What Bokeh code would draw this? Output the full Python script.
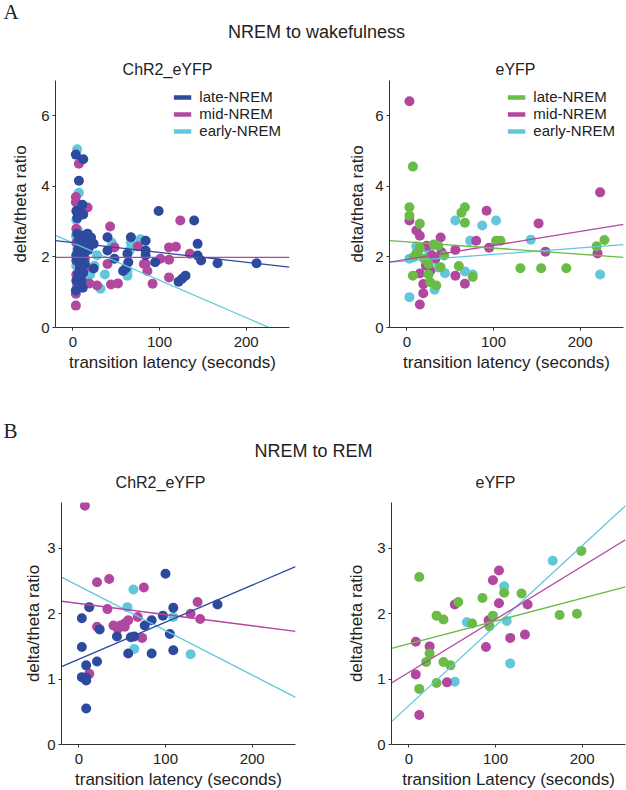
from bokeh.plotting import figure
from bokeh.models import Range1d, Label, Legend, LegendItem
from bokeh.layouts import column, row
from bokeh.embed import file_html
from bokeh.resources import INLINE

FONT = "Liberation Sans"
SERIF = "Liberation Serif"
BLUE = "#2D4A9F"
MAGENTA = "#B1479F"
CYAN = "#63C7DB"
GREEN = "#6BBB47"
NAN = float("nan")

groups = ["late-NREM", "mid-NREM", "early-NREM"]
x_ticks = [0, 100, 200]
y_ticks_A = [0, 2, 4, 6]
y_ticks_B = [0, 1, 2, 3]
fit_x = [-20, 250]

# ---------------- A: NREM to wakefulness, ChR2_eYFP ----------------
a_chr2_late_x = [3.5, 12, 7, 11, 12, 4, 5, 8, 5, 17, 21, 40, 67, 84, 99, 140, 144, 144, 148, 167, 212,
                 24, 40, 63, 64, 61, 84, 84, 95, 122, 126, 130, 3.5, 11.5, 4, 10, 6, 12, 8, 14, 4, 9,
                 13, 6, 10, 16, 7, 4, 11, 8, 18, 48, 58, 12, 24]
a_chr2_late_y = [4.90, 4.77, 4.16, 3.48, 3.20, 3.30, 3.10, 3.25, 2.66, 2.66, 2.55, 2.56, 2.56, 2.46, 3.30,
                 3.03, 2.37, 2.04, 1.90, 1.82, 1.82, 1.67, 2.18, 2.09, 1.85, 1.67, 2.18, 2.05, 1.85, 1.30,
                 1.38, 1.47, 1.05, 1.13, 1.33, 1.33, 1.50, 1.55, 1.70, 1.80, 1.90, 2.00, 2.10, 2.20, 2.30,
                 2.40, 2.45, 2.05, 1.95, 1.80, 2.20, 1.95, 1.60, 2.60, 2.37]
a_chr2_mid_x = [7, 3.5, 7, 17, 4, 43, 124, 21, 48, 75, 111, 119, 135, 101, 111, 84, 40, 111, 92, 44, 52,
                28, 3.5, 19, 4, 82, 86, 6, 10, 4, 12, 8, 15, 5, 9, 3.5, 14, 3.5]
a_chr2_mid_y = [4.64, 3.70, 3.40, 3.40, 2.80, 2.86, 3.03, 2.37, 2.27, 2.30, 2.27, 2.29, 2.09, 1.95, 1.92,
                1.80, 1.80, 1.42, 1.24, 1.22, 1.25, 1.19, 0.62, 1.25, 1.50, 1.80, 1.60, 2.00, 2.20, 2.40,
                1.85, 1.40, 1.70, 1.20, 2.60, 3.55, 1.95, 0.96]
a_chr2_early_x = [5, 7, 4, 3.5, 78, 67, 63, 32, 37, 63, 5, 8, 12, 4, 20, 16, 10, 6, 25, 45, 66, 6, 28]
a_chr2_early_y = [5.05, 3.82, 3.05, 2.60, 2.50, 2.40, 1.47, 1.10, 1.50, 1.60, 2.20, 1.90, 2.50, 1.75, 1.50,
                  1.30, 1.60, 3.45, 1.75, 2.40, 2.20, 2.75, 2.05]
a_chr2_fit = {"late-NREM": [2.46, 1.71], "mid-NREM": [1.99, 1.99], "early-NREM": [2.61, -0.25]}

# ---------------- A: NREM to wakefulness, eYFP ----------------
a_eyfp_late_x = [7, 3, 3, 15, 67, 63, 67, 103, 108, 219, 228, 131, 155, 184, 7, 60, 39, 43, 31, 36, 15,
                 11, 25, 27, 34, 76, 25, 20, 8]
a_eyfp_late_y = [4.56, 3.41, 3.17, 2.94, 3.41, 3.25, 2.97, 2.46, 2.46, 2.30, 2.48, 1.68, 1.68, 1.68, 1.47,
                 1.74, 1.71, 2.04, 2.35, 2.32, 2.25, 2.10, 1.80, 1.28, 1.19, 1.43, 1.50, 1.95, 2.00]
a_eyfp_mid_x = [3, 3, 11, 15, 23, 39, 56, 80, 92, 95, 152, 160, 223, 220, 56, 67, 15, 19, 19, 15, 25, 29,
                40, 22, 27, 33]
a_eyfp_mid_y = [6.41, 3.03, 2.75, 2.60, 2.32, 2.55, 2.20, 2.46, 3.31, 2.26, 2.95, 2.15, 3.83, 2.10, 1.47,
                1.24, 0.65, 0.97, 1.23, 1.53, 1.90, 2.05, 2.13, 1.75, 1.60, 1.95]
a_eyfp_early_x = [3, 3, 11, 56, 87, 103, 73, 143, 223, 44, 67, 76, 32, 25, 13, 36]
a_eyfp_early_y = [0.86, 1.95, 2.30, 3.03, 2.89, 3.03, 2.46, 2.49, 1.50, 1.54, 1.59, 1.50, 1.07, 2.20, 2.10,
                  1.70]
a_eyfp_fit = {"late-NREM": [2.46, 1.99], "mid-NREM": [1.85, 2.92], "early-NREM": [1.85, 2.35]}

# ---------------- B: NREM to REM, ChR2_eYFP ----------------
b_chr2_late_x = [3.5, 3.5, 3.5, 8.5, 8.5, 8.5, 8.5, 12, 24, 21, 44, 57, 60, 64, 76, 84, 84, 97, 100, 105,
                 109, 109, 160]
b_chr2_late_y = [1.93, 1.49, 1.03, 1.02, 0.98, 1.21, 0.55, 2.10, 1.76, 1.27, 1.65, 1.39, 1.64, 1.65, 1.82,
                 1.90, 1.39, 1.97, 2.61, 1.69, 2.09, 1.44, 2.14]
b_chr2_mid_x = [7, 21, 35, 75, 33, 21, 12, 40, 45, 48, 53, 57, 53, 68, 73, 129, 137, 140]
b_chr2_mid_y = [3.65, 2.48, 2.53, 2.40, 2.07, 1.80, 1.08, 1.82, 1.77, 1.82, 1.85, 1.90, 1.80, 1.95, 1.63,
                2.00, 2.18, 1.92]
b_chr2_early_x = [63, 56, 64, 109, 129]
b_chr2_early_y = [2.37, 2.10, 1.46, 1.95, 1.38]
b_chr2_fit = {"late-NREM": [1.19, 2.72], "mid-NREM": [2.19, 1.73], "early-NREM": [2.56, 0.72]}

# ---------------- B: NREM to REM, eYFP ----------------
b_eyfp_late_x = [12, 12, 20, 24, 32, 32, 40, 40, 48, 57, 73, 85, 93, 97, 110, 130, 174, 194, 199]
b_eyfp_late_y = [2.56, 0.85, 1.26, 1.39, 1.97, 0.94, 1.91, 1.26, 1.21, 2.18, 1.85, 2.24, 1.81, 1.97, 2.32,
                 2.31, 1.98, 2.00, 2.96]
b_eyfp_mid_x = [8, 8, 12, 24, 44, 53, 89, 92, 97, 104, 104, 117, 134, 137]
b_eyfp_mid_y = [1.57, 1.07, 0.45, 1.50, 0.95, 2.14, 1.49, 1.90, 2.51, 2.66, 2.16, 1.63, 1.68, 2.14]
b_eyfp_early_x = [53, 67, 110, 113, 117, 166]
b_eyfp_early_y = [0.96, 1.87, 2.42, 1.89, 1.24, 2.81]
b_eyfp_fit = {"late-NREM": [1.47, 2.41], "mid-NREM": [0.94, 3.13], "early-NREM": [0.35, 3.65]}

TXT = "#222222"
AX = "#333333"


def panel(xlabel, ymax, yticks, pts, fits, colors, show_legend,
          bl, br, bt, bb, fw, fh, ylab_standoff):
    p = figure(frame_width=fw, frame_height=fh,
               min_border_left=bl, min_border_right=br, min_border_top=bt, min_border_bottom=bb,
               x_range=Range1d(-20, 250), y_range=Range1d(0, ymax),
               output_backend="svg", toolbar_location=None)
    p.grid.visible = False
    p.outline_line_color = None
    p.background_fill_color = "white"
    p.border_fill_color = "white"
    p.xaxis.ticker = x_ticks
    p.yaxis.ticker = yticks
    p.xaxis.axis_label = xlabel
    p.yaxis.axis_label = "delta/theta ratio"
    for ax in (p.xaxis[0], p.yaxis[0]):
        ax.axis_line_color = AX
        ax.major_tick_line_color = AX
        ax.minor_tick_line_color = None
        ax.major_tick_out = 3
        ax.major_tick_in = 0
        ax.major_label_standoff = 3
        ax.major_label_text_font = FONT
        ax.major_label_text_font_size = "15px"
        ax.major_label_text_color = TXT
        ax.axis_label_text_font = FONT
        ax.axis_label_text_font_size = "17px"
        ax.axis_label_text_font_style = "normal"
        ax.axis_label_text_color = TXT
    p.xaxis[0].major_label_standoff = 6
    p.xaxis[0].axis_label_standoff = 3
    p.yaxis[0].axis_label_standoff = ylab_standoff

    for g in ["early-NREM", "mid-NREM", "late-NREM"]:
        xs, ys = pts[g]
        p.scatter(xs, ys, marker="circle", size=10, fill_color=colors[g], line_color=None)
    for g in ["early-NREM", "mid-NREM", "late-NREM"]:
        p.line(fit_x, fits[g], line_color=colors[g], line_width=1.3)

    if show_legend:
        items = []
        for g in groups:
            r = p.line(x=[NAN], y=[NAN], line_color=colors[g], line_width=4.5)
            items.append(LegendItem(label=g, renderers=[r]))
        lg = Legend(items=items, location="top_right", border_line_color=None,
                    background_fill_alpha=0, label_text_font=FONT, label_text_font_size="15px",
                    label_text_color=TXT, glyph_width=18, glyph_height=14, label_height=14,
                    spacing=0, padding=0, margin=8, label_standoff=8)
        p.add_layout(lg)
    return p


def header(w, h, labels):
    p = figure(width=w, height=h, x_range=Range1d(0, w), y_range=Range1d(h, 0),
               x_axis_location=None, y_axis_location=None, min_border=0,
               output_backend="svg", toolbar_location=None)
    p.grid.visible = False
    p.outline_line_color = None
    for text, x, y, font, size, align in labels:
        p.add_layout(Label(x=x, y=y, text=text, text_font=font, text_font_size=size,
                           text_align=align, text_baseline="middle", text_color=TXT))
    return p


chr2_cols = {"late-NREM": BLUE, "mid-NREM": MAGENTA, "early-NREM": CYAN}
eyfp_cols = {"late-NREM": GREEN, "mid-NREM": MAGENTA, "early-NREM": CYAN}

pA1 = panel("transition latency (seconds)", 7, y_ticks_A,
            {"late-NREM": (a_chr2_late_x, a_chr2_late_y), "mid-NREM": (a_chr2_mid_x, a_chr2_mid_y),
             "early-NREM": (a_chr2_early_x, a_chr2_early_y)},
            a_chr2_fit, chr2_cols, True, 55, 24, 0, 53, 234, 247, 8)
pA2 = panel("transition latency (seconds)", 7, y_ticks_A,
            {"late-NREM": (a_eyfp_late_x, a_eyfp_late_y), "mid-NREM": (a_eyfp_mid_x, a_eyfp_mid_y),
             "early-NREM": (a_eyfp_early_x, a_eyfp_early_y)},
            a_eyfp_fit, eyfp_cols, True, 76, 3, 0, 53, 234, 247, 5)
pB1 = panel("transition latency (seconds)", 3.7, y_ticks_B,
            {"late-NREM": (b_chr2_late_x, b_chr2_late_y), "mid-NREM": (b_chr2_mid_x, b_chr2_mid_y),
             "early-NREM": (b_chr2_early_x, b_chr2_early_y)},
            b_chr2_fit, chr2_cols, False, 61, 18, 2, 46, 234, 242, 1)
pB2 = panel("transition Latency (seconds)", 3.7, y_ticks_B,
            {"late-NREM": (b_eyfp_late_x, b_eyfp_late_y), "mid-NREM": (b_eyfp_mid_x, b_eyfp_mid_y),
             "early-NREM": (b_eyfp_early_x, b_eyfp_early_y)},
            b_eyfp_fit, eyfp_cols, False, 78, 1, 2, 46, 234, 242, 8)

hA = header(626, 80, [("A", 3, 11, SERIF, "21px", "left"),
                      ("NREM to wakefulness", 316, 31, FONT, "18px", "center"),
                      ("ChR2_eYFP", 167, 69, FONT, "16px", "center"),
                      ("eYFP", 515, 69, FONT, "16px", "center")])
hB = header(626, 120, [("B", 3, 50, SERIF, "21px", "left"),
                       ("NREM to REM", 313, 70, FONT, "18px", "center"),
                       ("ChR2_eYFP", 160, 102, FONT, "16px", "center"),
                       ("eYFP", 495, 102, FONT, "16px", "center")])

layout = column(hA, row(pA1, pA2), hB, row(pB1, pB2))

with open("out.html", "w") as f:
    f.write(file_html(layout, INLINE))
